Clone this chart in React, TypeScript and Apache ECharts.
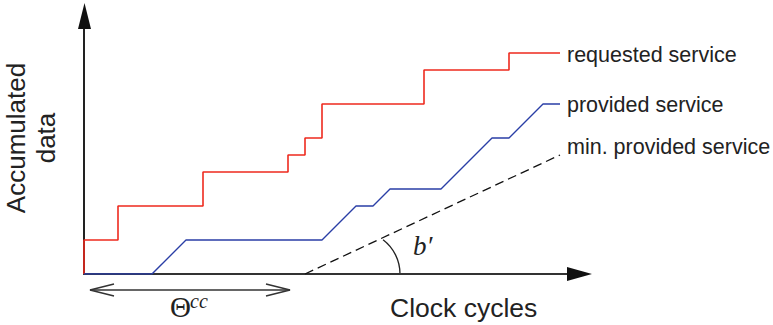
import React, { useEffect, useRef } from "react";
import * as echarts from "echarts";

// Data (x in clock-cycle units, y in data units)
const requestedX = [0, 0, 2, 7, 12, 13, 14, 20, 25, 28];
const requestedY = [0, 2, 4, 6, 7, 8, 10, 12, 13, 13];
const providedX = [0, 4, 6, 14, 16, 17, 18, 21, 24, 25, 27, 28];
const providedY = [0, 0, 2, 2, 4, 4, 5, 5, 8, 8, 10, 10];
const minProvidedX = [13, 28];
const minProvidedY = [0, 7];
const seriesNames = ["requested service", "provided service", "min. provided service"];

const zip = (xs: number[], ys: number[]) => xs.map((x, i) => [x, ys[i]]);

export default function App() {
  const ref = useRef<HTMLDivElement>(null);
  useEffect(() => {
    document.body.style.margin = "0";
    const chart = echarts.init(ref.current!, null, { renderer: "svg" });
    const sans = "'Liberation Sans', Arial, Helvetica, sans-serif";
    const serif = "'Liberation Serif', 'Times New Roman', serif";
    const labelStyle = {
      show: true,
      formatter: "{a}",
      distance: 7,
      fontSize: 21.5,
      fontFamily: sans,
      color: "#222",
    };
    chart.setOption({
      animation: false,
      backgroundColor: "#fff",
      grid: { left: 84, top: 19, right: 196, bottom: 51, containLabel: false },
      xAxis: {
        type: "value",
        min: 0,
        max: 29,
        axisLine: { show: true, lineStyle: { color: "#333", width: 2 } },
        axisTick: { show: false },
        axisLabel: { show: false },
        splitLine: { show: false },
      },
      yAxis: {
        type: "value",
        min: 0,
        max: 15,
        axisLine: { show: true, onZero: false, lineStyle: { color: "#222", width: 2 } },
        axisTick: { show: false },
        axisLabel: { show: false },
        splitLine: { show: false },
      },
      series: [
        {
          name: seriesNames[0],
          type: "line",
          step: "end",
          data: zip(requestedX, requestedY),
          showSymbol: false,
          symbol: "none",
          lineStyle: { color: "#ee2a1e", width: 1.6 },
          endLabel: { ...labelStyle, offset: [0, 2] },
          z: 3,
        },
        {
          name: seriesNames[1],
          type: "line",
          data: zip(providedX, providedY),
          showSymbol: false,
          symbol: "none",
          lineStyle: { color: "#2a3ea6", width: 1.4 },
          endLabel: { ...labelStyle, offset: [0, 1] },
          z: 4,
        },
        {
          name: seriesNames[2],
          type: "line",
          data: zip(minProvidedX, minProvidedY),
          showSymbol: false,
          symbol: "none",
          lineStyle: { color: "#111", width: 1.3, type: [9, 5] },
          endLabel: { ...labelStyle, offset: [0, -8] },
          z: 2,
        },
      ],
      graphic: [
        // axis arrowheads
        { type: "polygon", shape: { points: [[84.5, 3], [78, 29], [91, 29]] }, style: { fill: "#111" }, z: 10 },
        { type: "polygon", shape: { points: [[592, 274], [567, 267], [567, 281]] }, style: { fill: "#111" }, z: 10 },
        // Theta^cc double arrow
        { type: "line", shape: { x1: 90, y1: 290, x2: 290, y2: 290 }, style: { stroke: "#333", lineWidth: 1.5 } },
        { type: "polyline", shape: { points: [[114, 284], [90, 290], [114, 296]] }, style: { stroke: "#333", lineWidth: 1.5, fill: null } },
        { type: "polyline", shape: { points: [[266, 284], [290, 290], [266, 296]] }, style: { stroke: "#333", lineWidth: 1.5, fill: null } },
        { type: "text", x: 170, y: 307, style: { text: "Θ", font: `29px ${serif}`, fill: "#222", align: "left", verticalAlign: "middle" } },
        { type: "text", x: 190, y: 301, style: { text: "cc", font: `italic 20px ${serif}`, fill: "#222", align: "left", verticalAlign: "middle" } },
        // angle arc and b'
        { type: "arc", shape: { cx: 357, cy: 274, r: 43, startAngle: -0.92, endAngle: 0, clockwise: true }, style: { stroke: "#222", lineWidth: 1.3, fill: null } },
        { type: "text", x: 413, y: 246, style: { text: "b′", font: `italic 27px ${serif}`, fill: "#222", align: "left", verticalAlign: "middle" } },
        // axis titles
        { type: "text", x: 390, y: 308, style: { text: "Clock cycles", font: `26.5px ${sans}`, fill: "#222", align: "left", verticalAlign: "middle" } },
        {
          type: "text",
          x: 31,
          y: 138,
          rotation: Math.PI / 2,
          style: { text: "Accumulated\ndata", font: `26px ${sans}`, lineHeight: 30, fill: "#222", align: "center", verticalAlign: "middle" },
        },
      ],
    });
    return () => chart.dispose();
  }, []);
  return <div ref={ref} style={{ width: 773, height: 325 }} />;
}
